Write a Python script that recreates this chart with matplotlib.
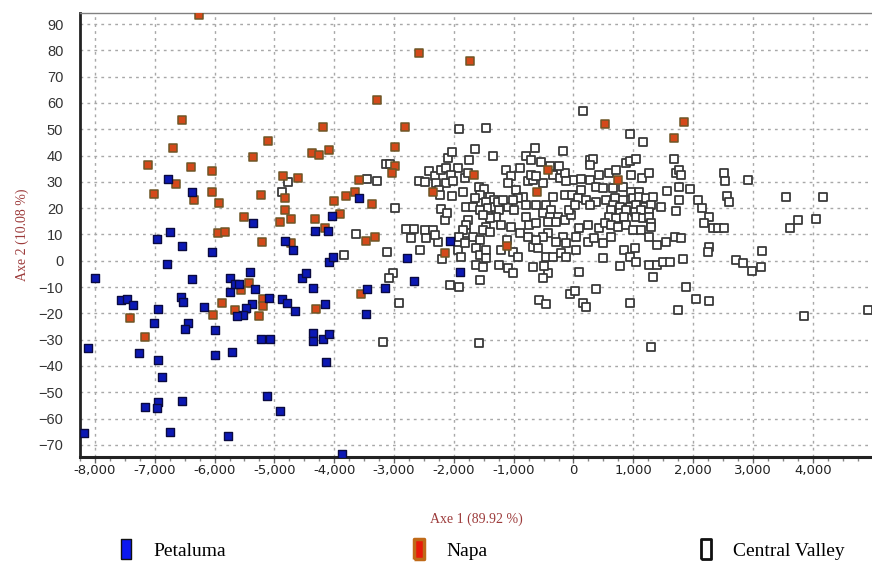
import matplotlib
matplotlib.use("Agg")
import matplotlib.pyplot as plt
from matplotlib.lines import Line2D
from matplotlib.ticker import MultipleLocator, FuncFormatter

# Petaluma (Axe 1, Axe 2)
petaluma_x = [-8000, -8180, -8120, -7560, -7460, -7360, -6950, -7020, -7260, -6940, -6880, -7170,
              -6950, -6970, -6750, -6550, -6560, -6520, -6440, -6500, -6370, -6800, -6960, -6740,
              -6540, -6040, -6180, -6000, -5990, -5710, -5770, -5740, -5750, -5650, -5590, -5400,
              -5330, -5370, -5470, -5520, -5630, -5090, -5220, -5070, -5130, -4900, -4880, -4790,
              -4660, -4830, -4690, -4350, -4540, -4470, -4090, -4020, -4150, -4350, -4350, -4180,
              -4090, -4130, -3870, -3450, -3470, -3150, -2780, -2660, -2060, -1900, -3590, -4040,
              -4320, -4110, -6780, -6380, -5350]
petaluma_y = [-6.5, -65.5, -33, -15, -14.7, -17, -18.3, -23.8, -35.2, -37.9, -44.3, -55.5,
              -53.8, -56, -65, -53.3, -13.7, -15.6, -23.7, -25.8, -7, -1.4, 8.3, 11,
              5.6, 3.2, -17.5, -26.5, -36, -34.7, -66.5, -12, -6.5, -8.8, -8.9, -4.2,
              -10.9, -16.3, -17.9, -20.7, -21.1, -14, -29.9, -29.6, -51.6, -57, -14.4, -16,
              -19, 7.5, 4.1, -10.2, -6.5, -4.6, -0.4, 1.3, -16.3, -27.3, -30.6, -29.6,
              -27.9, -38.5, -73.3, -10.9, -20.3, -10.2, 0.9, -7.6, 7.6, -4.2, 24, 17,
              11.5, 11.5, 31.2, 26.1, 14.5]

# Napa
napa_x = [-6260, -6540, -6700, -7110, -7020, -6640, -6400, -6350, -6040, -6050, -5920, -5950,
          -5830, -5350, -5110, -5220, -5500, -4900, -4730, -4820, -4820, -4860, -4610, -5210,
          -4720, -7420, -7160, -6030, -5870, -5660, -5550, -5420, -5260, -5190, -5190, -4370,
          -4250, -4090, -4320, -4160, -4010, -3800, -3650, -3900, -3590, -3370, -3470, -3310,
          -4310, -3550, -2150, -1110, -2580, -1730, -3290, -4180, -2820, -2990, -2990, -3040,
          -1660, -2350, -430, -610, 530, 1840, 1680, 750]
napa_y = [93.4, 53.4, 42.9, 36.3, 25.3, 29.3, 35.5, 23, 34, 26.1, 21.8, 10.5,
          10.8, 39.5, 45.4, 25, 16.7, 14.6, 16, 19.3, 24, 32.4, 31.4, 7.1,
          6.6, -21.6, -29, -20.7, -15.9, -18.8, -11.2, -8.6, -21.1, -14.4, -17.3, 41,
          40.3, 42.2, 15.8, 12.4, 22.9, 24.8, 26.3, 17.7, 30.8, 21.6, 7.6, 9.2,
          -18.4, -12.7, 2.8, 5.6, 78.9, 76, 61.1, 50.8, 50.8, 43.3, 35.9, 33.4,
          32.7, 26, 34.6, 26, 52, 52.8, 46.7, 30.8]

# Central Valley
central_x = [
    -4870, -4770, -3640, -3840, -3460, -3290, -3140, -3070, -2990, -3120, -3020, -3080,
    -2910, -3190, -2800, -2660, -2490, -2350, -2720, -2460, -2270, -2320, -2570, -2190,
    -2070, -2420, -2590, -2480, -2320, -2210, -2130, -2290, -2130, -2250, -2230, -2210,
    -2150, -2120, -2100, -2030,
    -1910, -1460, -1640, -1350, -1750, -180, -650, -790, -710, -540,
    -1930, -2040, -1820, -1770, -2020, -1850, -1580, -1500, -1570, -1650, -2030, -1400,
    -1330, -1470, -1790, -1680, -1570, -1430, -1320, -1240, -1290, -1400, -1520, -1770,
    -1790, -1470, -1520, -1400, -1210, -1040, -1100, -990, -1270, -1180, -1130, -1040,
    -1100, -960, -850, -930, -1010, -760, -680, -510, -900, -710, -620, -350,
    -230, -150, -10, -120, -400, -250, -350, -150, -20, -790, -620, -460,
    -370, -510, -400, -260, -150, -40, -290, -430, -70, -790, -740, -620,
    -1790, -1680, -1570, -1850, -1910, -1930, -1880, -1810, -1630, -1570, -1470, -1630,
    -1520, -1460, -1570, -1240, -1100, -1010, -1010, -930, -1110, -1210, -680, -600,
    -460, -350, -210, -120, -680, -430, -510, -490, -60, -570, -460, -1910,
    -1580, -430, -180, -290, -120, -510, -620, -760, -900,
    160, 940, 1170, 1680, 280, 330, 270, 870, 940, 1040, 130, 430,
    590, 710, 280, 380, 490, 960, 1150, 1270, 1720, 1770, 1800, 1770,
    1940, 1560, 660, 820, 960, 1100, 130, 70, 210, 380, 550, 690,
    820, 990, 1100, 1220, 1330, 20, 270, 660, 770, 940, 1050, 1190,
    1300, 630, 770, 880, 1020, 1130, 1270, 1470, 1720, 1770, 600, 710,
    850, 1050, 1160, 1270, 1300, 100, 240, 430, 520, 630, 740, 880,
    990, 1130, 1300, 40, 240, 350, 490, 630, 1270, 1390, 1550, 1690,
    1800, 850, 1020, 940, 1050, 40, 490, 1270, 1390, 1490, 1610, 1830,
    770, 100, 1330, 1880, 380, 30, 950, 160, 210, 1300, 1750,
    2050, 2260, 2080, 2140, 2270, 2190, 2330, 2410, 2520, 2270, 2250, 2520,
    2540, 2560, 2600, 2910, 2720, 2830, 2990, 3140, 3150, 3560, 4170, 3750,
    3620, 4060, 3850, 4930]
central_y = [
    26.3, 29.8, 10.1, 2.1, 31.2, 30.2, 36.8, 36.8, 20, 3.4, -4.8, -6.7,
    -16, -30.9, 12.2, 12, 11.7, 11.7, 8.5, 8.5, 7.3, 9.8, 4.1, 0.5,
    -9.3, 34, 30.4, 29.8, 32.1, 34.6, 35.3, 29.5, 29.5, 27, 25.1, 19.6,
    15.5, 18.1, 39.1, 41.2,
    50.2, 50.5, 42.3, 39.7, 38.4, 41.6, 42.9, 39.7, 38.4, 37.5,
    35.3, 32.7, 31.4, 33.4, 30.2, 26.3, 28.2, 27.2, 25.1, 23.8, 24.7, 24.4,
    23.2, 22.5, 20.6, 20.6, 19.4, 20, 20.6, 19.4, 16.8, 16.2, 17.4, 15.5,
    13.6, 13, 11.7, 11.1, 13.6, 13, 20.6, 19.4, 22.5, 23.2, 34.6, 32.1,
    29.5, 27, 24.4, 23.8, 23.2, 30.2, 30.8, 29.5, 35.3, 32.7, 32.1, 32.7,
    31.4, 33.4, 30.8, 30.2, 36, 36, 24.4, 25.1, 25.1, 21.3, 21.3, 21.3,
    19.4, 18.1, 16.8, 16.8, 15.5, 17.4, 14.9, 14.9, 19.4, 16.8, 13.6, 14.3,
    10.5, 9.2, 7.9, 11.7, 9.2, 4.1, 1.5, 6.6, 4.7, 2.2, 4.1, -1.6,
    -2.3, 0.9, -7.4, -1.6, -2.9, -4.8, 3.4, 1.5, 7.9, 4.1, 5.3, 4.7,
    1.5, 1.5, 2.8, 1.5, -2.3, -4.8, -6.7, -2, -12.5, -15, -16.3, -9.9,
    -31.3, 10.5, 9.2, 7.3, 6.6, 9.2, 7.9, 9.2, 10.5,
    56.9, 48, 45, 38.7, 38.4, 38.7, 36.5, 37.2, 37.8, 38.7, 31.1, 32.7,
    33.4, 34.6, 30.8, 28.2, 27.6, 32.7, 31.4, 33.4, 33.4, 34.6, 32.7, 28.2,
    27.3, 26.7, 27.6, 28.2, 26.3, 26.3, 27, 23.8, 23.2, 22.5, 23.2, 23.8,
    23.2, 23.8, 24.2, 23.8, 24.2, 21.3, 21.3, 21.3, 20.6, 20.6, 21.3, 20.6,
    21.3, 19.4, 18.1, 19.4, 18.7, 19.4, 18.7, 20.4, 19.1, 23.2, 16.8, 16.2,
    16.8, 16.8, 16.2, 16.8, 14.3, 12.4, 13.6, 12.4, 14.3, 13.6, 13, 13.6,
    11.7, 11.7, 13, 9.2, 7.3, 8.5, 6.6, 9.2, 9.2, 6, 7.3, 9.2,
    8.5, 4.1, 4.7, 1.5, -0.4, 4.1, 0.9, -1.6, -1.6, -0.4, -0.4, 0.5,
    -2, -4.2, -6.3, -9.9, -10.9, -11.5, -16, -16, -17.6, -32.6, -18.8,
    -14.4, -15.4, 23.2, 20, 16.8, 14.3, 12.4, 12.4, 12.4, 5.3, 3.4, 33.4,
    30.2, 24.7, 22.5, 30.8, 0.3, -1, -3.8, -2.3, 3.8, 24.4, 24.4, 15.5,
    12.4, 15.9, -21.1, -18.8]

x_limits = (-8250, 4990)
y_limits = (-74.5, 94.3)
label_red = "#9c3a3a"


def main():
    fig = plt.figure(figsize=(8.72, 5.67), dpi=100)
    ax = fig.add_axes([0.0917, 0.1945, 0.9083, 0.7831])

    ax.scatter(central_x, central_y, marker="s", s=30, facecolors="white",
               edgecolors="#3a3a3a", linewidths=1.3, zorder=3)
    ax.scatter(napa_x, napa_y, marker="s", s=32, facecolors="#d4491a",
               edgecolors="#6e5626", linewidths=1.1, zorder=4)
    ax.scatter(petaluma_x, petaluma_y, marker="s", s=32, facecolors="#0c18b4",
               edgecolors="#0a0a40", linewidths=1.0, zorder=5)

    ax.set_xlim(*x_limits)
    ax.set_ylim(*y_limits)
    ax.xaxis.set_major_locator(MultipleLocator(1000))
    ax.xaxis.set_minor_locator(MultipleLocator(250))
    ax.yaxis.set_major_locator(MultipleLocator(10))
    ax.xaxis.set_major_formatter(FuncFormatter(lambda v, p: "{:,.0f}".format(v)))

    ax.grid(True, which="major", color="#a8a8a8", linestyle=(0, (2, 3)), linewidth=1.0)
    ax.set_axisbelow(True)

    ax.spines["right"].set_visible(False)
    ax.spines["top"].set_color("#808080")
    ax.spines["top"].set_linewidth(1.0)
    ax.spines["left"].set_color("#222222")
    ax.spines["left"].set_linewidth(2.0)
    ax.spines["bottom"].set_color("#222222")
    ax.spines["bottom"].set_linewidth(2.2)

    ax.tick_params(axis="x", which="major", direction="out", length=4, width=1,
                   color="#666666", pad=1.5, labelsize=9.5, labelcolor="#222222")
    ax.tick_params(axis="x", which="minor", direction="out", length=3, width=1,
                   color="#888888")
    ax.tick_params(axis="y", length=0, pad=12, labelsize=10.5, labelcolor="#333333")
    for lbl in ax.get_xticklabels():
        lbl.set_family(["Liberation Sans Narrow", "DejaVu Sans"])
    for lbl in ax.get_yticklabels():
        lbl.set_family(["Liberation Sans", "DejaVu Sans"])

    ax.set_xlabel("Axe 1 (89.92 %)", family=["Liberation Serif", "DejaVu Serif"],
                  fontsize=10, color=label_red, labelpad=25)
    ax.set_ylabel("Axe 2 (10.08 %)", family=["Liberation Serif", "DejaVu Serif"],
                  fontsize=10, color=label_red, labelpad=7)

    rect = [(-0.22, -0.5), (0.22, -0.5), (0.22, 0.5), (-0.22, 0.5), (-0.22, -0.5)]
    entries = [
        ("Petaluma", "#0c18f0", "#111111", 1.0, 0.113),
        ("Napa", "#e81a0a", "#c06a18", 2.5, 0.449),
        ("Central Valley", "white", "#111111", 2.0, 0.778),
    ]
    for name, face, edge, lw, xpos in entries:
        handle = Line2D([], [], linestyle="none", marker=rect, markersize=15,
                        markerfacecolor=face, markeredgecolor=edge, markeredgewidth=lw)
        fig.legend([handle], [name], loc="center left", bbox_to_anchor=(xpos, 0.028),
                   frameon=False, handletextpad=0.9, handlelength=1.0,
                   prop={"family": ["Liberation Serif", "DejaVu Serif"], "size": 14})

    fig.savefig("out.png", dpi=100)


if __name__ == "__main__":
    main()
